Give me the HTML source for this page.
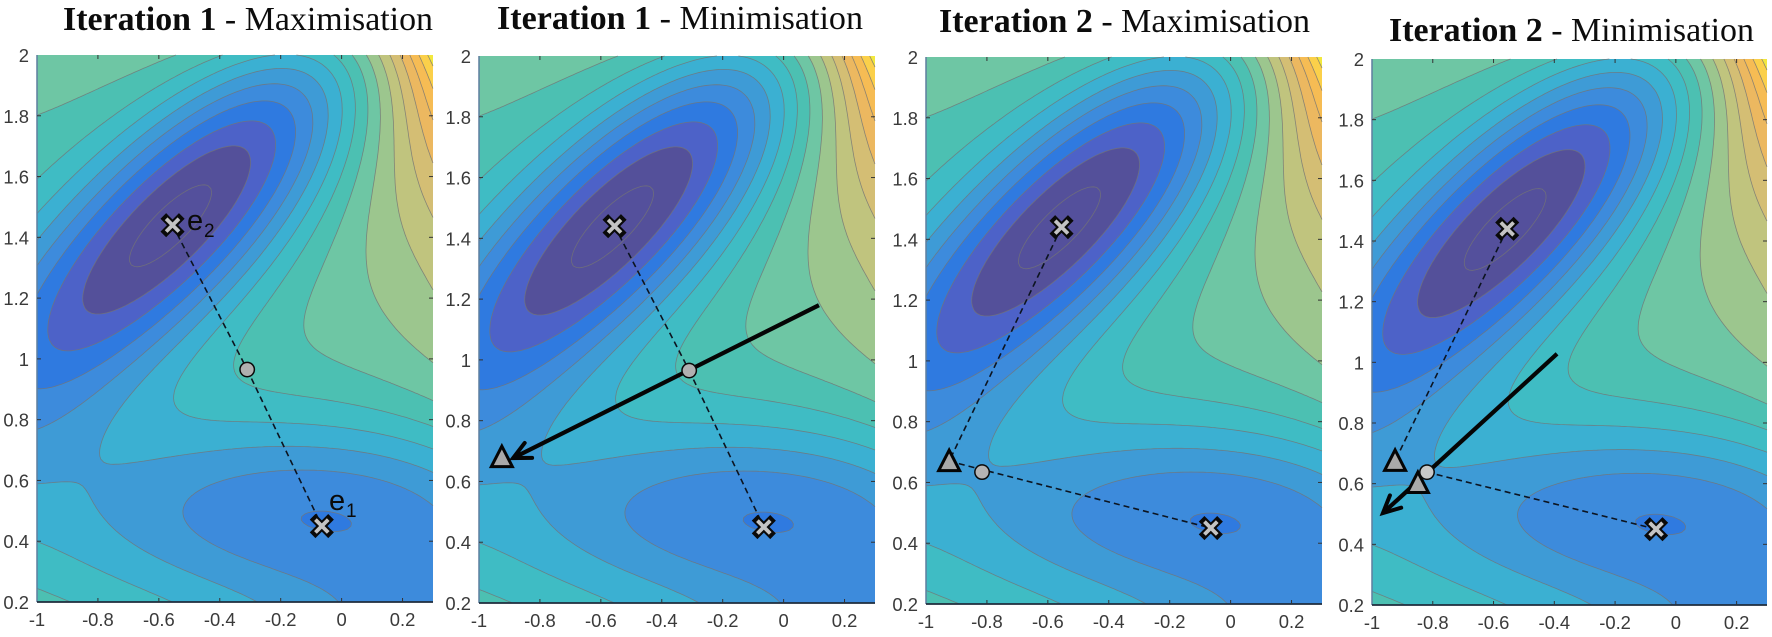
<!DOCTYPE html>
<html lang="en">
<head>
<meta charset="utf-8">
<title>Iterations on the potential surface</title>
<style>
html,body{margin:0;padding:0;background:#fff;width:1772px;height:637px;overflow:hidden}
svg{display:block;filter:blur(0.35px)}
.title{font-family:"Liberation Serif",serif;fill:#0c0c0c}
.title .b{font-weight:bold}
.tick{font-family:"Liberation Sans",sans-serif;font-size:18.4px;fill:#3a3a3a}
.elabel{font-family:"Liberation Sans",sans-serif;fill:#0a0a0a}
</style>
</head>
<body>
<svg id="chart" xmlns="http://www.w3.org/2000/svg" width="1772" height="637" viewBox="0 0 1772 637">
  <rect width="1772" height="637" fill="#ffffff"/>
  <defs id="defs"></defs>
  <g id="panels"></g>
  <text class="title" x="63" y="30" font-size="34" textLength="370" lengthAdjust="spacingAndGlyphs"><tspan class="b">Iteration 1</tspan> - Maximisation</text>
  <text class="title" x="497" y="29" font-size="34" textLength="366" lengthAdjust="spacingAndGlyphs"><tspan class="b">Iteration 1</tspan> - Minimisation</text>
  <text class="title" x="939" y="32" font-size="34" textLength="371" lengthAdjust="spacingAndGlyphs"><tspan class="b">Iteration 2</tspan> - Maximisation</text>
  <text class="title" x="1389" y="41" font-size="34" textLength="365" lengthAdjust="spacingAndGlyphs"><tspan class="b">Iteration 2</tspan> - Minimisation</text>
  <g>
    <text class="elabel" x="187" y="230" font-size="29">e</text>
    <text class="elabel" x="204" y="237" font-size="19">2</text>
    <text class="elabel" x="329" y="510" font-size="29">e</text>
    <text class="elabel" x="346" y="517" font-size="19">1</text>
  </g>
</svg>
<script>
const termAmplitudes = [-200, -100, -170, 15];
const termXX = [-1, -1, -6.5, 0.7];
const termXY = [0, 0, 11, 0.6];
const termYY = [-10, -10, -6.5, 0.7];
const termCentreX = [1, 0, -0.5, -1];
const termCentreY = [0, 0.5, 1.5, 1];
const contourLevels = [-140, -120, -100, -80, -60, -40, -20, 0, 20, 40, 60, 80, 100, 120, 140, 160, 180, 200];

// ---- axes
const xTickValues = [-1, -0.8, -0.6, -0.4, -0.2, 0, 0.2];
const xTickLabels = ['-1', '-0.8', '-0.6', '-0.4', '-0.2', '0', '0.2'];
const yTickValues = [0.2, 0.4, 0.6, 0.8, 1, 1.2, 1.4, 1.6, 1.8, 2];
const yTickLabels = ['0.2', '0.4', '0.6', '0.8', '1', '1.2', '1.4', '1.6', '1.8', '2'];
const xDomain = [-1, 0.3];
const yDomain = [0.2, 2];

// ---- marker data, in axis units, one entry per panel
const extremaPoints = [[-0.555, 1.44], [-0.065, 0.45]];
const centroidPoints = [[-0.31, 0.965], [-0.31, 0.965], [-0.816, 0.634], [-0.819, 0.638]];
const trianglePoints = [[], [[-0.925, 0.68]], [[-0.924, 0.67]], [[-0.924, 0.675], [-0.849, 0.602]]];
const arrowStarts = [null, [0.116, 1.18], null, [-0.391, 1.028]];
const arrowEnds = [null, [-0.888, 0.677], null, [-0.964, 0.503]];
const dashedStarts = [
  [[-0.555, 1.44], [-0.31, 0.965]],
  [[-0.555, 1.44], [-0.31, 0.965]],
  [[-0.555, 1.44], [-0.924, 0.67]],
  [[-0.555, 1.44], [-0.819, 0.638]]
];
const dashedEnds = [
  [[-0.31, 0.965], [-0.065, 0.45]],
  [[-0.31, 0.965], [-0.065, 0.45]],
  [[-0.924, 0.67], [-0.065, 0.45]],
  [[-0.924, 0.675], [-0.065, 0.45]]
];

// ---- styling and layout
const bandColors = ['#54509c', '#54509a', '#4d62c8', '#2f7ae0', '#3d8bdc', '#3e9bd6', '#3bb0d2', '#3fbcc4', '#4cc0b2', '#6ec6a4', '#9cc68e', '#c0c47e', '#d4be74', '#ecb860', '#f6bc54', '#fbd04a', '#f2e83e', '#f2e83e', '#f2e83e'];
const frameLeft = [37, 479, 926, 1372];
const frameTop = [55, 56, 57, 59];
const frameWidth = [396, 396, 396, 395];
const frameHeight = [547, 547, 547, 546];
const centroidFills = ['#b0b0b0', '#b0b0b0', '#b4b4b4', '#c8c8c8'];
const SVGNS = 'http://www.w3.org/2000/svg';
const FIELD_W = 396, FIELD_H = 547;
const STEP = 0.01;

function make(parent, tag, attrs) {
  const n = document.createElementNS(SVGNS, tag);
  for (const k in attrs) n.setAttribute(k, attrs[k]);
  parent.appendChild(n);
  return n;
}

function surface(x, y) {
  let v = 0;
  for (let k = 0; k < termAmplitudes.length; k++) {
    const dx = x - termCentreX[k], dy = y - termCentreY[k];
    v += termAmplitudes[k] * Math.exp(termXX[k] * dx * dx + termXY[k] * dx * dy + termYY[k] * dy * dy);
  }
  return v;
}

const gridCols = Math.round((xDomain[1] - xDomain[0]) / STEP) + 1;
const gridRows = Math.round((yDomain[1] - yDomain[0]) / STEP) + 1;
const gridValues = [];
for (let j = 0; j < gridRows; j++) {
  const row = [];
  for (let i = 0; i < gridCols; i++) row.push(surface(xDomain[0] + i * STEP, yDomain[1] - j * STEP));
  gridValues.push(row);
}
function gridAt(i, j) {
  if (i < 0 || j < 0 || i >= gridCols || j >= gridRows) return -1e9;
  return gridValues[j][i];
}
function localX(i) { return i / (gridCols - 1) * FIELD_W; }
function localY(j) { return j / (gridRows - 1) * FIELD_H; }

// Marching squares: returns an SVG path for one level. With closeAtEdge the
// grid gets a low ring, so the region above the level closes along the frame.
function tracePath(level, closeAtEdge) {
  const lo = closeAtEdge ? -1 : 0;
  const hiI = closeAtEdge ? gridCols : gridCols - 1;
  const hiJ = closeAtEdge ? gridRows : gridRows - 1;
  const next = new Map(), target = new Set(), points = new Map();
  for (let j = lo; j < hiJ; j++) {
    for (let i = lo; i < hiI; i++) {
      const corners = [[i, j], [i + 1, j], [i + 1, j + 1], [i, j + 1]];
      const keys = ['h' + i + '_' + j, 'v' + (i + 1) + '_' + j, 'h' + i + '_' + (j + 1), 'v' + i + '_' + j];
      const crossings = [];
      for (let e = 0; e < 4; e++) {
        const p = corners[e], q = corners[(e + 1) % 4];
        const vp = gridAt(p[0], p[1]), vq = gridAt(q[0], q[1]);
        const hp = vp >= level, hq = vq >= level;
        if (hp !== hq) {
          const t = (level - vp) / (vq - vp);
          crossings.push({ key: keys[e], up: hq });
          if (!points.has(keys[e])) {
            const px = localX(p[0] + (q[0] - p[0]) * t), py = localY(p[1] + (q[1] - p[1]) * t);
            points.set(keys[e], px.toFixed(1) + ' ' + py.toFixed(1));
          }
        }
      }
      for (let m = 0; m < crossings.length; m++) {
        if (!crossings[m].up) {
          const nx = crossings[(m + 1) % crossings.length];
          next.set(crossings[m].key, nx.key);
          target.add(nx.key);
        }
      }
    }
  }
  let d = '';
  const seen = new Set();
  function walk(start, closed) {
    let k = start, part = 'M' + points.get(k);
    seen.add(k);
    while (next.has(k)) {
      k = next.get(k);
      if (seen.has(k)) break;
      seen.add(k);
      part += 'L' + points.get(k);
    }
    d += part + (closed ? 'Z' : '');
  }
  next.forEach(function (v, k) { if (!target.has(k)) walk(k, false); });
  next.forEach(function (v, k) { if (!seen.has(k)) walk(k, true); });
  return d;
}

// Shared contour field, reused by all four panels
const defs = document.getElementById('defs');
const field = make(defs, 'g', { id: 'contour-field' });


const baseBand = make(field, 'rect', { x: 0, y: 0, width: FIELD_W, height: FIELD_H, fill: bandColors[0] });


contourLevels.forEach(function (level, idx) {
  const band = make(field, 'path', { d: tracePath(level, true), fill: bandColors[idx + 1], 'fill-rule': 'evenodd' });
  
  
});
contourLevels.forEach(function (level) {
  const line = make(field, 'path', { d: tracePath(level, false), fill: 'none', stroke: '#747474', 'stroke-opacity': 0.8, 'stroke-width': 0.8 });
  
  
});

const panelsRoot = document.getElementById('panels');

frameLeft.forEach(function (L, p) {
  const T = frameTop[p], W = frameWidth[p], H = frameHeight[p], B = T + H, R = L + W;
  const sx = function (x) { return L + (x - xDomain[0]) / (xDomain[1] - xDomain[0]) * W; };
  const sy = function (y) { return B - (y - yDomain[0]) / (yDomain[1] - yDomain[0]) * H; };

  const g = make(panelsRoot, 'g', {});
  
  

  const use = make(g, 'use', { href: '#contour-field', transform: 'translate(' + L + ' ' + T + ') scale(' + (W / FIELD_W) + ' ' + (H / FIELD_H) + ')' });
  
  

  // frame
  const leftEdge = make(g, 'line', { x1: L, y1: T, x2: L, y2: B, stroke: '#5f7f9f', 'stroke-width': 1.5 });
  
  
  const bottomEdge = make(g, 'line', { x1: L, y1: B, x2: R, y2: B, stroke: '#1f2c3c', 'stroke-width': 1.8 });
  
  

  // ticks and labels
  xTickValues.forEach(function (v, i) {
    const x = sx(v);
    if (i > 0) {
      const t1 = make(g, 'line', { x1: x, y1: B, x2: x, y2: B - 4, stroke: '#333', 'stroke-width': 1 });
      
      
      const t2 = make(g, 'line', { x1: x, y1: T, x2: x, y2: T + 4, stroke: '#333', 'stroke-width': 1 });
      
      
    }
    const lab = make(g, 'text', { x: x, y: B + 24, 'text-anchor': 'middle', class: 'tick' });
    lab.textContent = xTickLabels[i];
    
    
  });
  yTickValues.forEach(function (v, i) {
    const y = sy(v);
    if (i > 0 && i < yTickValues.length - 1) {
      const t1 = make(g, 'line', { x1: L, y1: y, x2: L + 4, y2: y, stroke: '#333', 'stroke-width': 1 });
      
      
      const t2 = make(g, 'line', { x1: R, y1: y, x2: R - 4, y2: y, stroke: '#333', 'stroke-width': 1 });
      
      
    }
    const lab = make(g, 'text', { x: L - 8, y: y + 7, 'text-anchor': 'end', class: 'tick' });
    lab.textContent = yTickLabels[i];
    
    
  });

  // dashed links between points
  dashedStarts[p].forEach(function (s, i) {
    const e = dashedEnds[p][i];
    const link = make(g, 'line', { x1: sx(s[0]), y1: sy(s[1]), x2: sx(e[0]), y2: sy(e[1]), stroke: '#0c1420', 'stroke-width': 1.6, 'stroke-dasharray': '6 4' });
    
    
  });

  // arrow
  if (arrowStarts[p]) {
    const ax1 = sx(arrowStarts[p][0]), ay1 = sy(arrowStarts[p][1]);
    const ax2 = sx(arrowEnds[p][0]), ay2 = sy(arrowEnds[p][1]);
    const ang = Math.atan2(ay1 - ay2, ax1 - ax2), spread = 26 * Math.PI / 180, barb = 19;
    const shaft = make(g, 'line', { x1: ax1, y1: ay1, x2: ax2, y2: ay2, stroke: '#050505', 'stroke-width': 4.2 });
    
    
    const head = make(g, 'polyline', {
      points: (ax2 + barb * Math.cos(ang - spread)) + ',' + (ay2 + barb * Math.sin(ang - spread)) + ' ' + ax2 + ',' + ay2 + ' ' + (ax2 + barb * Math.cos(ang + spread)) + ',' + (ay2 + barb * Math.sin(ang + spread)),
      fill: 'none', stroke: '#050505', 'stroke-width': 4, 'stroke-linecap': 'round', 'stroke-linejoin': 'miter'
    });
    
    
  }

  // triangles
  trianglePoints[p].forEach(function (pt) {
    const cx = sx(pt[0]), cy = sy(pt[1]);
    const tri = make(g, 'polygon', {
      points: cx + ',' + (cy - 11) + ' ' + (cx + 10.5) + ',' + (cy + 9.5) + ' ' + (cx - 10.5) + ',' + (cy + 9.5),
      fill: '#a9a9a9', stroke: '#050505', 'stroke-width': 3, 'stroke-linejoin': 'miter'
    });
    
    
  });

  // centroid circle
  const c = make(g, 'circle', { cx: sx(centroidPoints[p][0]), cy: sy(centroidPoints[p][1]), r: 7.2, fill: centroidFills[p], stroke: '#0a0a0a', 'stroke-width': 1.5 });
  
  

  // extrema crosses
  extremaPoints.forEach(function (pt) {
    const cx = sx(pt[0]), cy = sy(pt[1]), a = 6.4;
    const d = 'M' + (cx - a) + ' ' + (cy - a) + 'L' + (cx + a) + ' ' + (cy + a) + 'M' + (cx + a) + ' ' + (cy - a) + 'L' + (cx - a) + ' ' + (cy + a);
    const outline = make(g, 'path', { d: d, fill: 'none', stroke: '#0a0a0a', 'stroke-width': 8, 'stroke-linecap': 'square' });
    
    
    const inner = make(g, 'path', { d: d, fill: 'none', stroke: '#c4c4c4', 'stroke-width': 3.8, 'stroke-linecap': 'butt' });
    
    
  });
});
</script>
</body>
</html>
